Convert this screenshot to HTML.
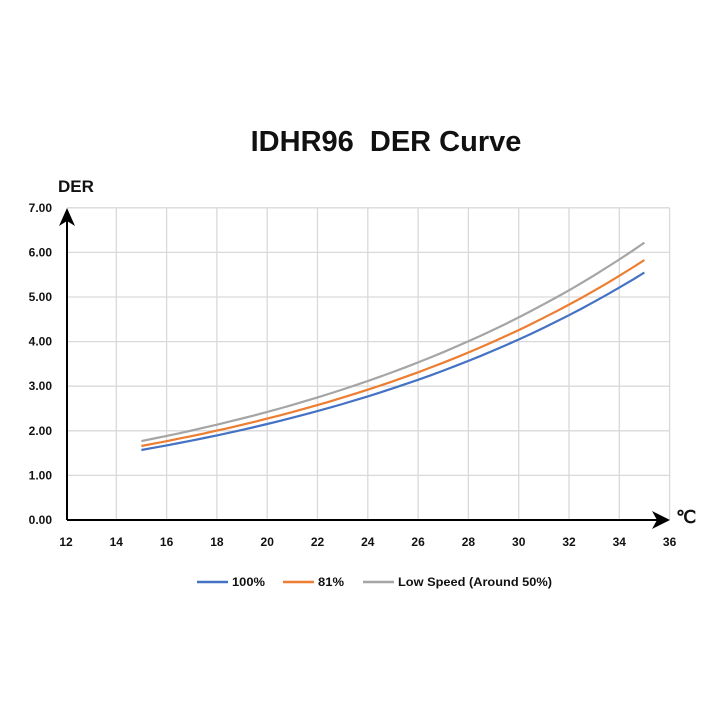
<!DOCTYPE html>
<html><head><meta charset="utf-8"><style>
body{margin:0;background:#fff;}
svg text{font-family:"Liberation Sans",sans-serif;font-weight:bold;}
</style></head><body>
<svg id="s" width="718" height="718" xmlns="http://www.w3.org/2000/svg">
<text x="386" y="151" font-size="29" text-anchor="middle" fill="#111">IDHR96&#160; DER Curve</text>
<text x="58" y="192" font-size="17" fill="#111">DER</text>
<g id="grid" stroke="#d9d9d9" stroke-width="1.3"></g>
<g id="lab" font-size="12" fill="#111"></g>
<line x1="67" y1="520" x2="660" y2="520" stroke="#000" stroke-width="2"/>
<polygon points="670,520 652,511 657,520 652,529" fill="#000"/>
<line x1="67" y1="520" x2="67" y2="218" stroke="#000" stroke-width="2"/>
<polygon points="67,208 59,226 67,221 75,226" fill="#000"/>
<text x="676" y="523" font-size="18" font-weight="normal" fill="#111">℃</text>
<g id="curves" fill="none" stroke-width="2.2"></g>
<line x1="197" y1="582" x2="228" y2="582" stroke="#4472c4" stroke-width="2.5"/>
<text x="232" y="586" font-size="12" fill="#111" textLength="33" lengthAdjust="spacingAndGlyphs">100%</text>
<line x1="283" y1="582" x2="314" y2="582" stroke="#ed7d31" stroke-width="2.5"/>
<text x="318" y="586" font-size="12" fill="#111" textLength="26" lengthAdjust="spacingAndGlyphs">81%</text>
<line x1="363" y1="582" x2="394" y2="582" stroke="#a5a5a5" stroke-width="2.5"/>
<text x="398" y="586" font-size="12" fill="#111" textLength="154" lengthAdjust="spacingAndGlyphs">Low Speed (Around 50%)</text>
</svg>
<script>
var NS="http://www.w3.org/2000/svg";
function X(t){return 66+(t-12)*25.15;}
function Y(v){return 520-v*44.6;}
var g=document.getElementById('grid'),l=document.getElementById('lab');
function el(p,n,a,t){var e=document.createElementNS(NS,n);for(var k in a)e.setAttribute(k,a[k]);if(t!==undefined)e.textContent=t;p.appendChild(e);}
for(var t=14;t<=36;t+=2)el(g,'line',{x1:X(t),x2:X(t),y1:Y(7),y2:520});
for(var v=1;v<=7;v++)el(g,'line',{x1:67,x2:X(36),y1:Y(v),y2:Y(v)});
for(var t=12;t<=36;t+=2)el(l,'text',{x:X(t),y:546,'text-anchor':'middle'},t);
for(var v=0;v<=7;v++)el(l,'text',{x:52,y:Y(v)+4,'text-anchor':'end'},v.toFixed(2));
var c=document.getElementById('curves');
[[1.57,5.55,'#4472c4'],[1.66,5.83,'#ed7d31'],[1.77,6.22,'#a5a5a5']].forEach(function(s){
 var k=Math.log(s[1]/s[0])/20,p=[];
 for(var t=15;t<=35.001;t+=0.5)p.push(X(t).toFixed(1)+','+Y(s[0]*Math.exp(k*(t-15))).toFixed(1));
 el(c,'polyline',{points:p.join(' '),stroke:s[2]});
});
</script>
</body></html>
